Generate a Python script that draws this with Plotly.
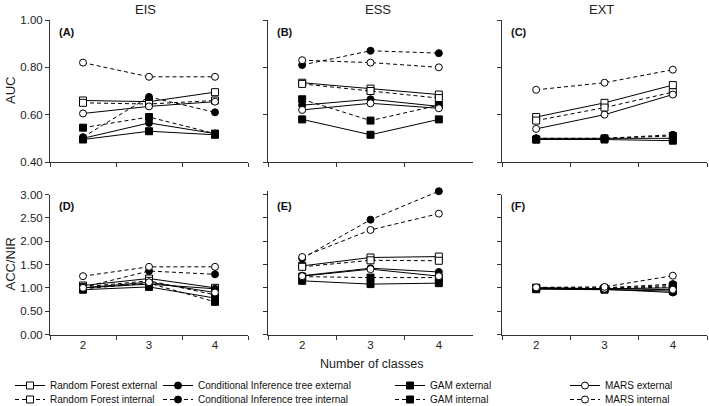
import plotly.graph_objects as go

W, H = 709, 406

classes = ["2", "3", "4"]
models = ["Random Forest", "Conditional Inference tree", "GAM", "MARS"]
sources = ["external", "internal"]

# AUC values (rows: EIS, ESS, EXT)
auc_eis = {
    ("Random Forest", "external"): [0.66, 0.655, 0.695],
    ("Random Forest", "internal"): [0.65, 0.645, 0.66],
    ("Conditional Inference tree", "external"): [0.50, 0.565, 0.52],
    ("Conditional Inference tree", "internal"): [0.505, 0.675, 0.61],
    ("GAM", "external"): [0.495, 0.53, 0.515],
    ("GAM", "internal"): [0.545, 0.59, 0.52],
    ("MARS", "external"): [0.605, 0.635, 0.655],
    ("MARS", "internal"): [0.82, 0.76, 0.76],
}
auc_ess = {
    ("Random Forest", "external"): [0.735, 0.71, 0.685],
    ("Random Forest", "internal"): [0.73, 0.70, 0.67],
    ("Conditional Inference tree", "external"): [0.64, 0.665, 0.635],
    ("Conditional Inference tree", "internal"): [0.81, 0.87, 0.86],
    ("GAM", "external"): [0.58, 0.515, 0.58],
    ("GAM", "internal"): [0.665, 0.575, 0.64],
    ("MARS", "external"): [0.62, 0.648, 0.627],
    ("MARS", "internal"): [0.83, 0.82, 0.80],
}
auc_ext = {
    ("Random Forest", "external"): [0.59, 0.65, 0.725],
    ("Random Forest", "internal"): [0.575, 0.63, 0.695],
    ("Conditional Inference tree", "external"): [0.50, 0.50, 0.50],
    ("Conditional Inference tree", "internal"): [0.50, 0.50, 0.515],
    ("GAM", "external"): [0.495, 0.495, 0.49],
    ("GAM", "internal"): [0.495, 0.50, 0.51],
    ("MARS", "external"): [0.54, 0.60, 0.685],
    ("MARS", "internal"): [0.705, 0.735, 0.79],
}
# ACC/NIR values
acc_eis = {
    ("Random Forest", "external"): [1.05, 1.20, 1.00],
    ("Random Forest", "internal"): [1.02, 1.15, 0.85],
    ("Conditional Inference tree", "external"): [1.00, 1.08, 0.98],
    ("Conditional Inference tree", "internal"): [1.01, 1.36, 1.29],
    ("GAM", "external"): [0.96, 1.02, 0.78],
    ("GAM", "internal"): [0.98, 1.10, 0.70],
    ("MARS", "external"): [1.00, 1.12, 0.90],
    ("MARS", "internal"): [1.25, 1.45, 1.45],
}
acc_ess = {
    ("Random Forest", "external"): [1.47, 1.65, 1.67],
    ("Random Forest", "internal"): [1.45, 1.59, 1.58],
    ("Conditional Inference tree", "external"): [1.26, 1.42, 1.34],
    ("Conditional Inference tree", "internal"): [1.63, 2.46, 3.07],
    ("GAM", "external"): [1.15, 1.08, 1.10],
    ("GAM", "internal"): [1.24, 1.22, 1.22],
    ("MARS", "external"): [1.25, 1.40, 1.25],
    ("MARS", "internal"): [1.66, 2.24, 2.59],
}
acc_ext = {
    ("Random Forest", "external"): [1.00, 0.98, 1.00],
    ("Random Forest", "internal"): [1.00, 0.99, 1.05],
    ("Conditional Inference tree", "external"): [0.99, 0.97, 0.90],
    ("Conditional Inference tree", "internal"): [1.00, 1.00, 1.08],
    ("GAM", "external"): [0.97, 0.96, 0.93],
    ("GAM", "internal"): [0.99, 0.98, 1.02],
    ("MARS", "external"): [1.00, 0.98, 0.96],
    ("MARS", "internal"): [1.01, 1.02, 1.26],
}

col_titles = ["EIS", "ESS", "EXT"]
row_titles = ["AUC", "ACC/NIR"]
panel_labels = ["(A)", "(B)", "(C)", "(D)", "(E)", "(F)"]
auc_ticks = [0.40, 0.60, 0.80, 1.00]
acc_ticks = [0.00, 0.50, 1.00, 1.50, 2.00, 2.50, 3.00]

panels = [auc_eis, auc_ess, auc_ext, acc_eis, acc_ess, acc_ext]

# ---------- styling ----------
def px_x(p):
    return p / W

def px_y(p):
    return 1 - p / H

x_dom = [(50, 248), (268, 473), (502, 707)]
y_dom = [(20, 162), (194.5, 334.5)]

marker_style = {
    "Random Forest": dict(symbol="square", color="white"),
    "Conditional Inference tree": dict(symbol="circle", color="black"),
    "GAM": dict(symbol="square", color="black"),
    "MARS": dict(symbol="circle", color="white"),
}

# one legend per entry: columns = models, rows = sources
leg_col_x = [10, 158, 390, 565]
leg_row_top = {"external": 371, "internal": 385}
legend_ids = {}
n = 0
for mi, m in enumerate(models):
    for s in sources:
        n += 1
        legend_ids[(m, s)] = "legend" if n == 1 else f"legend{n}"

tick_font = dict(family="Liberation Sans, Arial", size=11.5, color="#222")

fig = go.Figure()

for i, data in enumerate(panels):
    r, c = divmod(i, 3)
    ax = "" if i == 0 else str(i + 1)
    for m in models:
        for s in sources:
            ms = marker_style[m]
            fig.add_trace(go.Scatter(
                x=classes, y=data[(m, s)],
                xaxis="x" + ax, yaxis="y" + ax,
                mode="lines+markers",
                name=f"{m} {s}",
                legend=legend_ids[(m, s)],
                legendgroup=f"{m} {s}",
                showlegend=(i == 0),
                cliponaxis=False,
                line=dict(color="black", width=1, dash="solid" if s == "external" else "4px,3px"),
                marker=dict(symbol=ms["symbol"], size=7, color=ms["color"],
                            line=dict(color="black", width=1)),
            ))
    xa = dict(
        domain=[px_x(x_dom[c][0]), px_x(x_dom[c][1])],
        anchor="y" + ax, type="category", categoryorder="array", categoryarray=classes,
        range=[-0.5, 2.5], tickson="boundaries", ticks="outside", ticklen=4,
        tickcolor="#333", showline=True, linecolor="#333", linewidth=1,
        showgrid=False, zeroline=False, showticklabels=(r == 1), tickfont=tick_font,
    )
    ticks = auc_ticks if r == 0 else acc_ticks
    top_val = ticks[-1]
    top_px = y_dom[r][0]
    # let the top point of panel E (slightly above 3.00) stay visible
    peak = max(max(v) for v in data.values())
    if peak > top_val:
        ppu = (y_dom[r][1] - y_dom[r][0]) / (ticks[-1] - ticks[0])
        top_px = y_dom[r][0] - (peak + 0.005 - top_val) * ppu
        top_val = peak + 0.005
    ya = dict(
        domain=[px_y(y_dom[r][1]), px_y(top_px)],
        anchor="x" + ax, range=[ticks[0], top_val], tickvals=ticks,
        tickformat=".2f", ticks="outside", ticklen=4, tickcolor="#333",
        showline=True, linecolor="#333", linewidth=1, showgrid=False, zeroline=False,
        showticklabels=(c == 0), tickfont=tick_font,
    )
    fig.update_layout(**{"xaxis" + ax: xa, "yaxis" + ax: ya})

annotations = []
title_x = [145, 378, 601]
for c, t in enumerate(col_titles):
    annotations.append(dict(x=px_x(title_x[c]), y=px_y(10), xref="paper", yref="paper",
                            text=t, showarrow=False, xanchor="center", yanchor="middle",
                            font=dict(family="Liberation Sans, Arial", size=13, color="#222")))
for r, t in enumerate(row_titles):
    yc = (y_dom[r][0] + y_dom[r][1]) / 2
    annotations.append(dict(x=px_x(10), y=px_y(yc), xref="paper", yref="paper",
                            text=t, textangle=-90, showarrow=False,
                            xanchor="center", yanchor="middle",
                            font=dict(family="Liberation Sans, Arial", size=13, color="#222")))
for i, lab in enumerate(panel_labels):
    r, c = divmod(i, 3)
    annotations.append(dict(x=px_x(x_dom[c][0] + 7), y=px_y(y_dom[r][0] + 12),
                            xref="paper", yref="paper", text="<b>" + lab + "</b>",
                            showarrow=False, xanchor="left", yanchor="middle",
                            font=dict(family="Liberation Sans, Arial", size=11, color="#111")))
annotations.append(dict(x=px_x(372), y=px_y(364), xref="paper", yref="paper",
                        text="Number of classes", showarrow=False, xanchor="center",
                        yanchor="middle",
                        font=dict(family="Liberation Sans, Arial", size=12.5, color="#222")))

leg_font = dict(family="Liberation Sans, Arial", size=10, color="#111")
layout_legends = {}
for mi, m in enumerate(models):
    for s in sources:
        layout_legends[legend_ids[(m, s)]] = dict(
            orientation="v", yanchor="top", xanchor="left",
            x=px_x(leg_col_x[mi]), y=px_y(leg_row_top[s]),
            bgcolor="rgba(0,0,0,0)", borderwidth=0, font=leg_font,
            tracegroupgap=0, itemwidth=30,
        )

fig.update_layout(
    width=W, height=H, margin=dict(l=0, r=0, t=0, b=0, autoexpand=False),
    paper_bgcolor="white", plot_bgcolor="white",
    annotations=annotations, showlegend=True, **layout_legends,
)

fig.write_html(
    "out.html",
    config={"displayModeBar": False},
    post_script="document.body.style.margin='0px';document.body.style.padding='0px';"
                "document.body.style.overflow='hidden';",
)
